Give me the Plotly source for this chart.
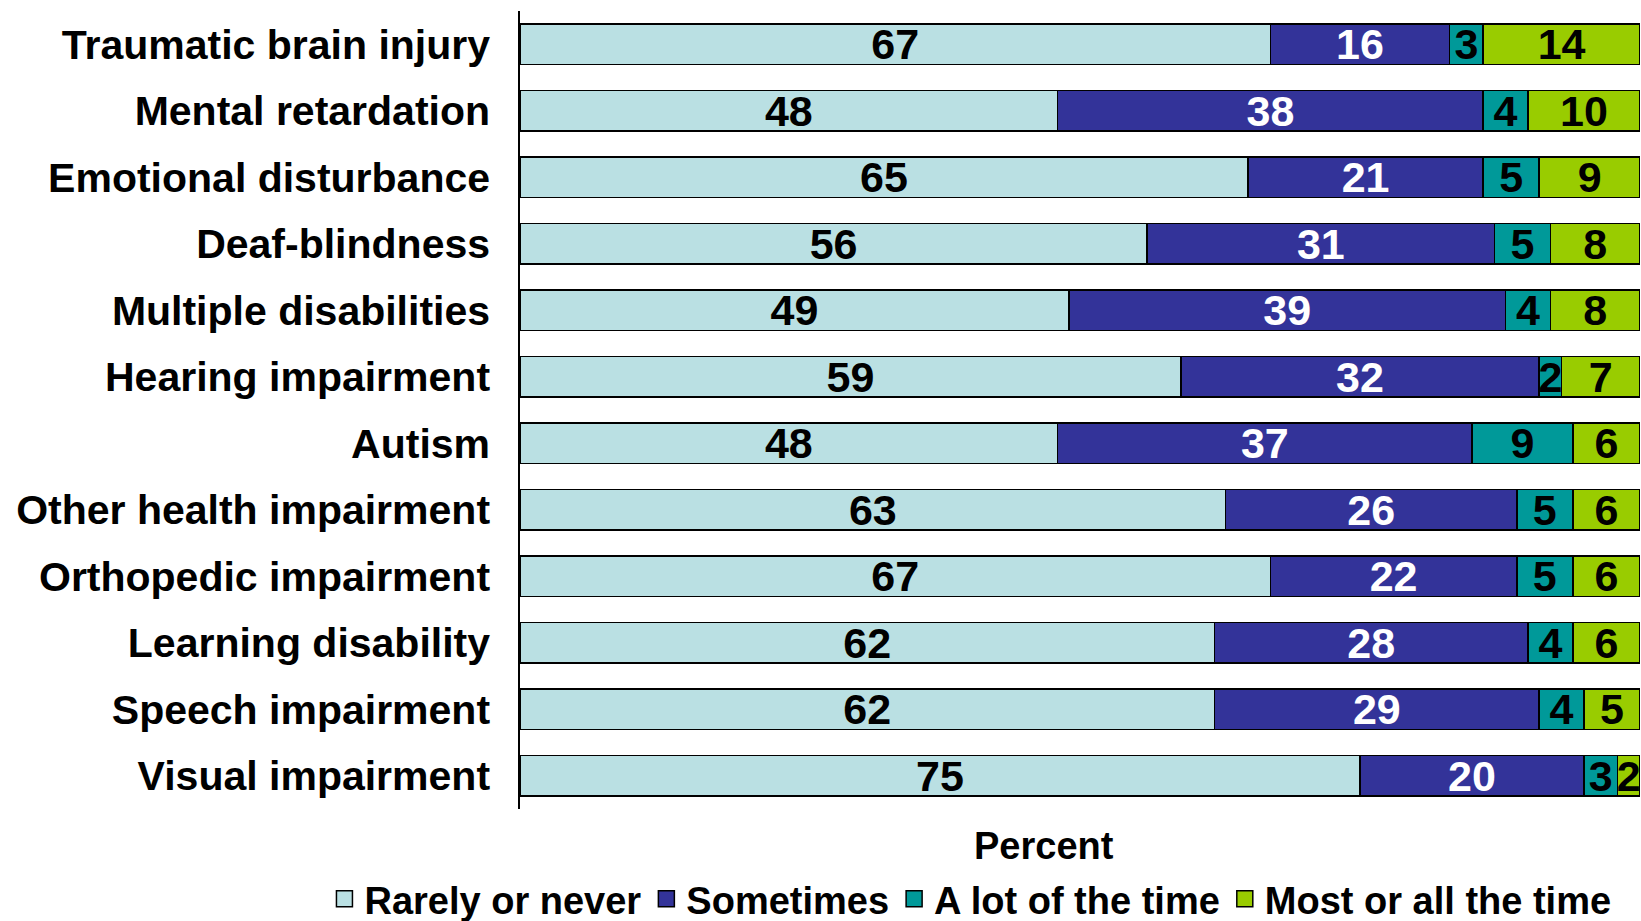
import plotly.graph_objects as go

categories = [
    "Traumatic brain injury", "Mental retardation", "Emotional disturbance",
    "Deaf-blindness", "Multiple disabilities", "Hearing impairment", "Autism",
    "Other health impairment", "Orthopedic impairment", "Learning disability",
    "Speech impairment", "Visual impairment",
]
rarely = [67, 48, 65, 56, 49, 59, 48, 63, 67, 62, 62, 75]
sometimes = [16, 38, 21, 31, 39, 32, 37, 26, 22, 28, 29, 20]
a_lot = [3, 4, 5, 5, 4, 2, 9, 5, 5, 4, 4, 3]
most = [14, 10, 9, 8, 8, 7, 6, 6, 6, 6, 5, 2]

series = [
    ("Rarely or never", rarely, "#BAE0E3", "black"),
    ("Sometimes", sometimes, "#333399", "white"),
    ("A lot of the time", a_lot, "#009999", "black"),
    ("Most or all the time", most, "#99CC00", "black"),
]

FONT = "Liberation Sans, Arial, sans-serif"

fig = go.Figure()
for name, vals, color, tcolor in series:
    fig.add_trace(go.Bar(
        y=categories, x=vals, name=name, orientation="h", showlegend=False,
        marker=dict(color=color, line=dict(color="black", width=1.5)),
        text=[str(v) for v in vals], textposition="inside",
        insidetextanchor="middle", textangle=0,
        textfont=dict(family=FONT, size=43, color=tcolor, weight="bold"),
        hoverinfo="skip",
    ))
# legend entries with larger square swatches
for name, vals, color, tcolor in series:
    fig.add_trace(go.Scatter(
        x=[None], y=[None], mode="markers", name=name,
        marker=dict(symbol="square", size=20, color=color,
                    line=dict(color="black", width=1.5)),
        showlegend=True, hoverinfo="skip",
    ))

fig.update_layout(
    template="none",
    barmode="stack",
    bargap=0.39,
    width=1641, height=921,
    margin=dict(l=520, r=1, t=10.5, b=112, autoexpand=False),
    paper_bgcolor="white", plot_bgcolor="white",
    uniformtext=dict(minsize=43, mode="show"),
    showlegend=True,
    legend=dict(
        orientation="h", xref="paper", yref="paper",
        x=-0.1746, y=-0.113, xanchor="left", yanchor="middle",
        font=dict(family=FONT, size=38, color="black", weight="bold"),
        traceorder="normal", itemclick=False, itemdoubleclick=False,
        itemsizing="trace", bgcolor="rgba(0,0,0,0)",
    ),
    xaxis=dict(range=[0, 100], showgrid=False, showline=False, zeroline=False,
               showticklabels=False, ticks="", automargin=False, fixedrange=True),
    yaxis=dict(categoryorder="array", categoryarray=categories, autorange="reversed",
               showgrid=False, zeroline=False, showline=True, linecolor="black",
               linewidth=1.5, ticks="", ticklabelstandoff=20, automargin=False,
               fixedrange=True,
               tickfont=dict(family=FONT, size=41, color="black", weight="bold")),
    annotations=[dict(
        text="Percent", xref="paper", yref="paper", x=0.468, y=-0.0463,
        xanchor="center", yanchor="middle", showarrow=False,
        font=dict(family=FONT, size=38, color="black", weight="bold"),
    )],
)

fig.write_html(
    "out.html",
    config={"displayModeBar": False},
    post_script="document.body.style.margin='0px';document.body.style.overflow='hidden';",
)
